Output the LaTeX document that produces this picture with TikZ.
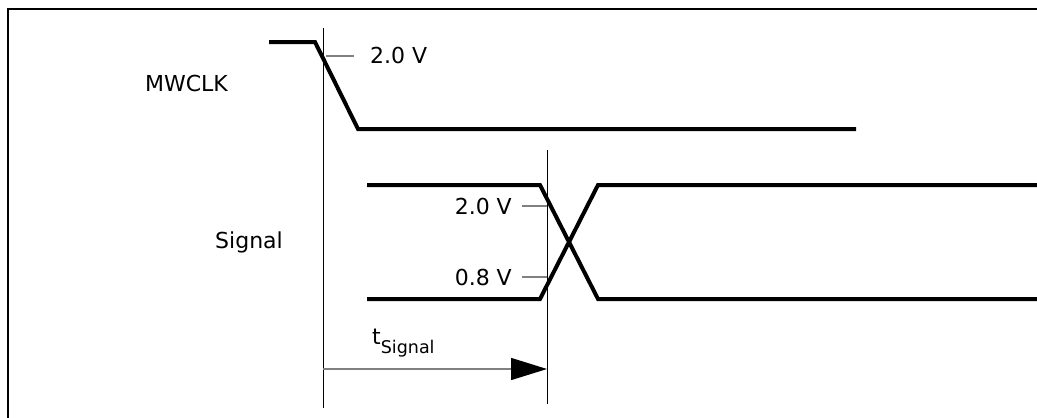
\documentclass[tikz,border=0pt]{standalone}
\usepackage{fontspec}
\setmainfont{DejaVu Sans}
\usetikzlibrary{arrows.meta}
\begin{document}
\begin{tikzpicture}[x=1pt,y=-1pt,
  wave/.style={line width=4pt,line join=miter},
  guide/.style={line width=1pt,black},
  tick/.style={line width=1.5pt,gray},
  lbl/.style={inner sep=0pt,font=\fontsize{22}{26}\selectfont},
  frame/.style={line width=2.5pt}]
\useasboundingbox (0,0) rectangle (1037,418);
% frame (open at right and bottom)
\draw[frame] (8,418) -- (8,9) -- (1037,9);
% MWCLK waveform
\coordinate (c0) at (269,42);
\coordinate (c1) at (315,42);
\coordinate (c2) at (358,129);
\coordinate (c3) at (856,129);
\draw[wave] (c0) -- (c1) -- (c2) -- (c3);
\node[lbl,anchor=base east] (mwclk) at (228,91) {MWCLK};
% reference guide lines
\coordinate (g1t) at (323,28);
\coordinate (g1b) at (323,408);
\draw[guide] (g1t) -- (g1b);
\coordinate (g2t) at (547,150);
\coordinate (g2b) at (547,404);
\draw[guide] (g2t) -- (g2b);
% 2.0 V on MWCLK
\coordinate (m20a) at (326,56);
\coordinate (m20b) at (354,56);
\draw[tick] (m20a) -- (m20b);
\node[lbl,anchor=base west] (m20) at (370,63) {2.0 V};
% Signal waveform
\coordinate (sUL) at (367,185);
\coordinate (sUM) at (540,185);
\coordinate (sUR) at (598,185);
\coordinate (sUE) at (1037,185);
\coordinate (sLL) at (367,299);
\coordinate (sLM) at (540,299);
\coordinate (sLR) at (598,299);
\coordinate (sLE) at (1037,299);
\draw[wave] (sUL) -- (sUM) -- (sLR) -- (sLE);
\draw[wave] (sLL) -- (sLM) -- (sUR) -- (sUE);
\node[lbl,anchor=base east] (sig) at (283,248) {Signal};
% thresholds
\coordinate (t20a) at (522,206);
\coordinate (t20b) at (547,206);
\draw[tick] (t20a) -- (t20b);
\node[lbl,anchor=base east] (s20) at (512,214) {2.0 V};
\coordinate (t08a) at (522,277);
\coordinate (t08b) at (547,277);
\draw[tick] (t08a) -- (t08b);
\node[lbl,anchor=base east] (s08) at (512,285) {0.8 V};
% timing arrow
\coordinate (a0) at (323,369);
\coordinate (a1) at (547,369);
\draw[tick,-{Triangle[length=36pt,width=22pt,black]}] (a0) -- (a1);
\node[lbl,anchor=base west] (ts) at (372,344) {t\raisebox{-9pt}{\fontsize{17.5}{20}\selectfont Signal}};
\end{tikzpicture}
\end{document}
